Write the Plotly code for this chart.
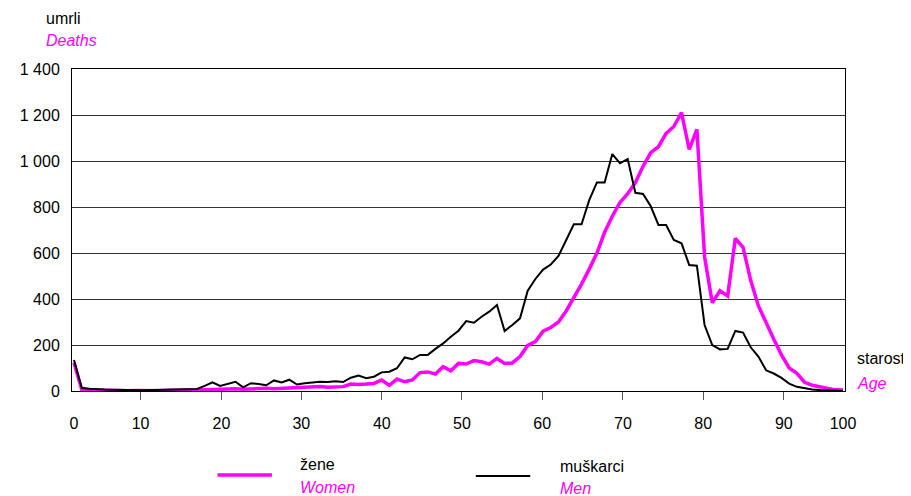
import plotly.graph_objects as go

ages = list(range(0, 101))

women = [123, 7, 4, 3, 2, 2, 2, 1, 2, 1,
         2, 1, 2, 2, 3, 3, 4, 5, 6, 8,
         7, 10, 8, 10, 13, 12, 10, 12, 14, 15,
         19, 20, 20, 16, 18, 19, 30, 28, 30, 33,
         48, 25, 52, 40, 48, 80, 83, 74, 106, 88,
         120, 117, 132, 127, 117, 142, 120, 122, 150, 198,
         215, 260, 276, 300, 348, 405, 465, 530, 600, 690,
         760, 820, 858, 906, 977, 1036, 1062, 1120, 1150, 1210,
         1050, 1138, 584, 384, 436, 413, 664, 625, 480, 370,
         295, 225, 157, 100, 77, 38, 25, 18, 12, 5,
         4]

men = [135, 14, 10, 7, 6, 5, 4, 4, 3, 3,
       4, 5, 6, 7, 9, 9, 9, 22, 38, 22,
       30, 40, 16, 34, 30, 25, 46, 37, 49, 28,
       34, 38, 40, 39, 42, 39, 58, 67, 56, 62,
       81, 84, 99, 146, 138, 157, 157, 183, 207, 236,
       262, 304, 297, 323, 345, 374, 261, 287, 316, 436,
       487, 528, 550, 587, 657, 725, 725, 830, 907, 907,
       1030, 990, 1009, 862, 857, 803, 722, 722, 657, 642,
       548, 545, 287, 200, 181, 183, 261, 254, 190, 150,
       90, 76, 57, 32, 18, 11, 7, 4, 2, 1,
       0]

y_ticks = [0, 200, 400, 600, 800, 1000, 1200, 1400]
y_labels = ["0", "200", "400", "600", "800", "1 000", "1 200", "1 400"]
x_labels = ["0", "10", "20", "30", "40", "50", "60", "70", "80", "90", "100"]
x_label_pos = [0, 8.66, 19.18, 29.56, 40.03, 50.45, 60.88, 71.39, 81.81, 92.31, 100]

MAG = "#FF00FF"
FONT = "Arial, Liberation Sans, sans-serif"

fig = go.Figure()
fig.add_trace(go.Scatter(x=ages, y=women, mode="lines", name="žene",
                         line=dict(color=MAG, width=3.5), showlegend=False))
fig.add_trace(go.Scatter(x=ages, y=men, mode="lines", name="muškarci",
                         line=dict(color="black", width=2), showlegend=False))

# page body has an 8px margin, so the figure is 8px smaller and offset
fig.update_layout(
    width=903, height=488,
    margin=dict(l=56, r=66, t=61, b=105),
    paper_bgcolor="white", plot_bgcolor="white",
    font=dict(family=FONT, size=16, color="black"),
    xaxis=dict(range=[-0.26, 100.26], tickmode="array", tickvals=x_label_pos,
               ticktext=x_labels, ticks="", showgrid=False, zeroline=False,
               showline=True, linecolor="black", linewidth=1, mirror=True,
               ticklabelstandoff=18,
               minor=dict(tickmode="array", tickvals=x_label_pos[1:-1],
                          ticks="outside", ticklen=8, tickcolor="#555555",
                          tickwidth=1, showgrid=False)),
    yaxis=dict(range=[0, 1400], tickmode="array", tickvals=y_ticks,
               ticktext=y_labels, ticks="", showgrid=True,
               gridcolor="#333333", gridwidth=1, zeroline=False,
               showline=True, linecolor="black", linewidth=1, mirror=True,
               ticklabelstandoff=8),
)

# positions given in window pixels of the plot area (64..845 x, 69..391 y)
def px_x(p):
    return (p - 64) / 781.0

def px_y(p):
    return (391 - p) / 322.0

texts = [
    ("umrli", 36, 18, "black", False),
    ("Deaths", 36, 40, MAG, True),
    ("starost", 855, 358, "black", False),
    ("Age", 855, 383, MAG, True),
    ("žene", 292, 465, "black", False),
    ("Women", 292, 487, MAG, True),
    ("muškarci", 555, 466, "black", False),
    ("Men", 555, 488, MAG, True),
]
for t, x, y, c, it in texts:
    fig.add_annotation(text=f"<i>{t}</i>" if it else t, x=px_x(x), y=px_y(y),
                       xref="paper", yref="paper", xanchor="left", yanchor="middle",
                       showarrow=False, font=dict(color=c, size=16, family=FONT))

fig.add_shape(type="line", xref="paper", yref="paper",
              x0=px_x(211), x1=px_x(266), y0=px_y(475), y1=px_y(475),
              line=dict(color=MAG, width=3.5))
fig.add_shape(type="line", xref="paper", yref="paper",
              x0=px_x(472), x1=px_x(527), y0=px_y(476), y1=px_y(476),
              line=dict(color="black", width=2))

fig.write_html("out.html")
